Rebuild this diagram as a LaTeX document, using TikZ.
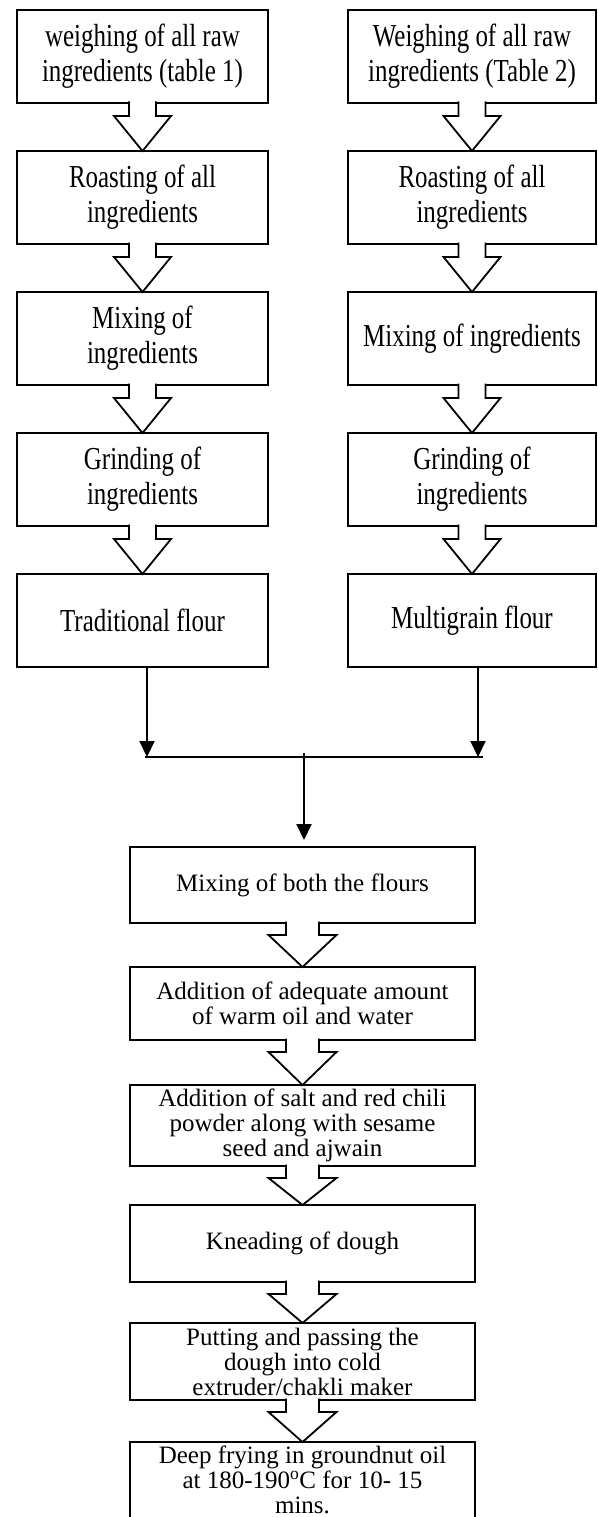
\documentclass[tikz,border=0pt]{standalone}
\usepackage{fontspec}
\setmainfont{Liberation Serif}
\newfontfamily\narrowserif[FakeStretch=0.78]{Liberation Serif}
\usetikzlibrary{arrows.meta, calc, positioning}

\tikzset{
  flourbox/.style={draw, line width=2.6pt, outer sep=0pt, inner sep=0pt, minimum width=251pt, minimum height=93pt, align=center, font=\narrowserif\fontsize{32}{35}\selectfont},
  stepbox/.style={draw, line width=2.6pt, outer sep=0pt, inner sep=0pt, minimum width=345pt, align=center, font=\fontsize{25}{25}\selectfont},
  fat/.style n args={3}{draw, line width=1.8pt, fill=white, to path={let \p1=(\tikztostart), \p2=(\tikztotarget) in (\x1-#1,\y1+1.5pt) -- (\x1-#1,\y1-#2) -- (\x1-#3,\y1-#2) -- (\x2,\y2) -- (\x1+#3,\y1-#2) -- (\x1+#1,\y1-#2) -- (\x1+#1,\y1+1.5pt)}},
  upfat/.style={fat={13.5pt}{13pt}{28.5pt}},
  lowfat/.style={fat={16.5pt}{12pt}{34pt}},
  flow/.style={-{Triangle[width=15pt,length=16pt]}, line width=2pt}
}

\begin{document}
\begin{tikzpicture}[x=1pt, y=-1pt, node distance=48pt]

\useasboundingbox (0,0) rectangle (597,1517);

\node[flourbox]					(weighL)				at (142.5,56.5)	{weighing of all raw\\ingredients (table 1)};
\node[flourbox]					(roastL)	[below=of weighL]			{Roasting of all\\ingredients};
\node[flourbox]					(mixL)		[below=of roastL]			{Mixing of\\ingredients};
\node[flourbox]					(grindL)	[below=of mixL]			{Grinding of\\ingredients};
\node[flourbox]					(tradflour)	[below=of grindL]			{Traditional flour};

\node[flourbox, minimum width=248pt]	(weighR)				at (472,56.5)	{Weighing of all raw\\ingredients (Table 2)};
\node[flourbox, minimum width=248pt]	(roastR)	[below=of weighR]			{Roasting of all\\ingredients};
\node[flourbox, minimum width=248pt]	(mixR)		[below=of roastR]			{Mixing of ingredients};
\node[flourbox, minimum width=248pt]	(grindR)	[below=of mixR]			{Grinding of\\ingredients};
\node[flourbox, minimum width=248pt]	(multiflour)	[below=of grindR]		{Multigrain flour};

\coordinate	(jl)	at (147,757);
\coordinate	(jr)	at (478,757);
\coordinate	(jm)	at (304,753);

\node[stepbox, minimum height=76pt]	(mixboth)				at (302.5,885)	{Mixing of both the flours};
\node[stepbox, minimum height=73pt]	(oilwater)	[below=44pt of mixboth]	{Addition of adequate amount\\of warm oil and water};
\node[stepbox, minimum height=81pt]	(saltchili)	[below=45pt of oilwater]	{Addition of salt and red chili\\powder along with sesame\\seed and ajwain};
\node[stepbox, minimum height=77pt]	(knead)		[below=39pt of saltchili]	{Kneading of dough};
\node[stepbox, minimum height=77pt]	(extrude)	[below=41pt of knead]		{Putting and passing the\\dough into cold\\extruder/chakli maker};
\node[stepbox, minimum height=80pt, text depth=4pt]	(fry)	[below=42pt of extrude]	{Deep frying in groundnut oil\\at 180-190\textsuperscript{o}C for 10- 15\\mins.};

\path	(weighL.south)	edge[upfat]	(roastL.north);
\path	(roastL.south)	edge[upfat]	(mixL.north);
\path	(mixL.south)	edge[upfat]	(grindL.north);
\path	(grindL.south)	edge[upfat]	(tradflour.north);

\path	(weighR.south)	edge[upfat]	(roastR.north);
\path	(roastR.south)	edge[upfat]	(mixR.north);
\path	(mixR.south)	edge[upfat]	(grindR.north);
\path	(grindR.south)	edge[upfat]	(multiflour.north);

\draw[flow]	([xshift=4.5pt]tradflour.south)	-- (jl);
\draw[flow]	([xshift=6pt]multiflour.south)	-- (jr);
\draw[line width=1.5pt]	([xshift=-2pt]jl)	-- ([xshift=5pt]jr);
\draw[flow, shorten >=7pt]	(jm)	-- (jm |- mixboth.north);

\path	(mixboth.south)		edge[lowfat]	(oilwater.north);
\path	(oilwater.south)	edge[lowfat]	(saltchili.north);
\path	(saltchili.south)	edge[lowfat]	(knead.north);
\path	(knead.south)		edge[lowfat]	(extrude.north);
\path	(extrude.south)		edge[lowfat]	(fry.north);

\end{tikzpicture}
\end{document}
